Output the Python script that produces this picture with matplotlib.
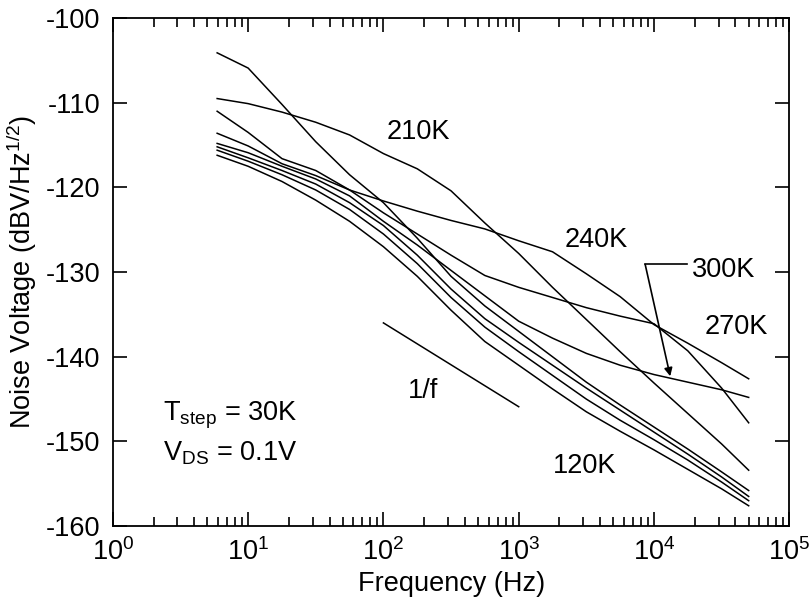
import matplotlib
matplotlib.use("Agg")
import matplotlib.pyplot as plt
import numpy as np
from matplotlib.ticker import LogLocator, NullFormatter, FixedLocator

plt.rcParams['font.family'] = ['Liberation Sans', 'DejaVu Sans']
plt.rcParams['mathtext.fontset'] = 'custom'
plt.rcParams['mathtext.rm'] = 'Liberation Sans'
plt.rcParams['mathtext.it'] = 'Liberation Sans'
plt.rcParams['mathtext.default'] = 'regular'
plt.rcParams['axes.unicode_minus'] = False

# frequencies (Hz) shared by all traces
freq = [5.9, 10, 17.8, 31.6, 56.2, 100, 178, 316, 562, 1000,
        1778, 3162, 5623, 10000, 17783, 31623, 50119]

# noise voltage (dBV/Hz^1/2)
c_a = [-104.1, -105.9, -110.2, -114.6, -118.5, -121.8, -126.0, -130.5, -134.0,
       -137.0, -140.0, -143.0, -145.7, -148.3, -150.9, -153.6, -155.8]
c_210 = [-109.5, -110.1, -111.1, -112.3, -113.8, -116.0, -117.8, -120.4, -124.2,
         -127.8, -131.8, -135.6, -139.4, -143.1, -146.7, -150.3, -153.4]
c_c = [-111.0, -113.5, -116.6, -118.0, -120.3, -121.6, -122.8, -123.9, -124.9,
       -126.3, -127.6, -130.2, -132.9, -136.2, -138.4, -140.7, -142.6]
c_d = [-113.6, -115.1, -117.2, -118.6, -120.3, -123.0, -125.5, -128.0, -130.4,
       -131.8, -133.0, -134.2, -135.2, -136.1, -139.3, -143.7, -147.8]
c_300 = [-114.8, -115.9, -117.5, -119.0, -121.0, -124.0, -126.8, -129.8, -132.8,
         -135.8, -137.8, -139.6, -141.0, -142.1, -143.0, -143.9, -144.8]
c_f = [-115.2, -116.5, -118.0, -119.6, -121.8, -124.5, -128.0, -132.0, -135.5,
       -138.3, -141.0, -143.7, -146.3, -148.9, -151.5, -154.2, -156.5]
c_g = [-115.6, -116.9, -118.5, -120.3, -122.6, -125.5, -129.0, -133.0, -136.5,
       -139.4, -142.2, -145.0, -147.5, -149.8, -152.2, -154.8, -157.0]
c_120 = [-116.2, -117.5, -119.3, -121.5, -124.0, -127.0, -130.5, -134.5, -138.2,
         -141.0, -143.8, -146.5, -148.8, -151.0, -153.3, -155.6, -157.6]

# 1/f guide line
ref_f = [100, 1000]
ref_db = [-136.0, -145.9]

fig = plt.figure(figsize=(8.12, 6.04), dpi=100)
ax = fig.add_axes([0.139, 0.129, 0.833, 0.841])

for c in [c_a, c_210, c_c, c_d, c_300, c_f, c_g, c_120]:
    ax.plot(freq, c, color='black', lw=1.1)
ax.plot(ref_f, ref_db, color='black', lw=1.1)

ax.set_xscale('log')
ax.set_xlim(1, 1e5)
ax.set_ylim(-160, -100)
ax.yaxis.set_major_locator(FixedLocator(np.arange(-160, -99, 10)))
ax.xaxis.set_minor_locator(LogLocator(base=10, subs=np.arange(2, 10)))
ax.xaxis.set_minor_formatter(NullFormatter())
ax.set_xticks([10**i for i in range(6)])
ax.set_xticklabels(['$10^{%d}$' % i for i in range(6)])

fs = 19.5
ax.tick_params(which='both', direction='in', top=True, right=True, width=1.2,
               labelsize=fs)
ax.tick_params(which='major', length=10, pad=9)
ax.tick_params(which='minor', length=6.5)
for s in ax.spines.values():
    s.set_linewidth(1.3)

ax.set_xlabel('Frequency (Hz)', fontsize=fs, labelpad=3)
ax.set_ylabel('Noise Voltage (dBV/Hz$^{1/2}$)', fontsize=fs, labelpad=5)

ax.text(10**2.26, -113.4, '210K', fontsize=fs, ha='center', va='center')
ax.text(10**3.57, -126.2, '240K', fontsize=fs, ha='center', va='center')
ax.text(10**4.283, -129.8, '300K', fontsize=fs, ha='left', va='center')
ax.text(10**4.61, -136.5, '270K', fontsize=fs, ha='center', va='center')
ax.text(10**3.49, -152.9, '120K', fontsize=fs, ha='center', va='center')
ax.text(10**2.29, -144.0, '1/f', fontsize=fs, ha='center', va='center')
ax.text(10**0.37, -146.9, 'T$_{step}$ = 30K', fontsize=fs, ha='left', va='center')
ax.text(10**0.37, -151.4, 'V$_{DS}$ = 0.1V', fontsize=fs, ha='left', va='center')

# 300K pointer
ax.plot([10**3.935, 10**4.246], [-129.1, -129.1], color='black', lw=1.2)
ax.annotate('', xy=(10**4.12, -142.3), xytext=(10**3.935, -129.1),
            arrowprops=dict(arrowstyle='-|>', color='black', lw=1.2,
                            mutation_scale=12, shrinkA=0, shrinkB=0))

fig.savefig('out.png', dpi=100)
